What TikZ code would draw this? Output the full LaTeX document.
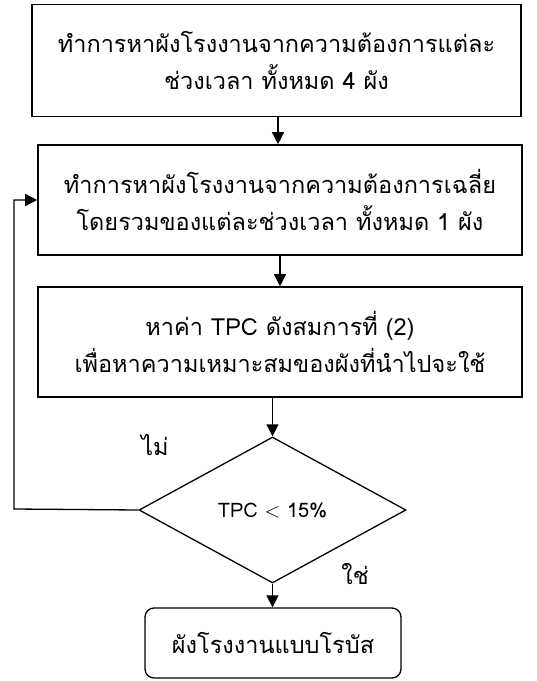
\documentclass[tikz,border=0pt]{standalone}
\usepackage{fontspec}
\newfontfamily\thaifont[Script=Thai]{Loma}
\usetikzlibrary{shapes.geometric,arrows.meta}
\begin{document}
\begin{tikzpicture}[x=1pt,y=-1pt,
  box/.style={draw,line width=1.6pt,inner sep=0pt,align=center,
    font=\thaifont\fontsize{23.5}{37}\selectfont},
  conn/.style={line width=1.3pt,-{Triangle[width=12pt,length=12pt]}},
  lbl/.style={font=\thaifont\fontsize{23.5}{26}\selectfont}]
\useasboundingbox (0,0) rectangle (537,681);
\node[box,minimum width=489pt,minimum height=112pt] (b1) at (276.5,60.5)
  {ทำการหาผังโรงงานจากความต้องการแต่ละ\\ช่วงเวลา ทั้งหมด 4 ผัง};
\node[box,minimum width=484pt,minimum height=110pt] (b2) at (280,200)
  {ทำการหาผังโรงงานจากความต้องการเฉลี่ย\\โดยรวมของแต่ละช่วงเวลา ทั้งหมด 1 ผัง};
\node[box,minimum width=484pt,minimum height=110pt] (b3) at (280,342)
  {หาค่า TPC ดังสมการที่ (2)\\เพื่อหาความเหมาะสมของผังที่นำไปจะใช้};
\node[diamond,draw,line width=1.3pt,inner sep=0pt,minimum width=267pt,minimum height=146pt,
  font=\thaifont\fontsize{20}{22}\selectfont] (d) at (272.5,510) {TPC $<$ 15\%};
\node[draw,line width=1.3pt,rounded corners=9pt,minimum width=256pt,minimum height=70pt,
  inner sep=0pt,font=\thaifont\fontsize{23.5}{26}\selectfont] (e) at (273,643) {ผังโรงงานแบบโรบัส};
\coordinate (lp) at (14,509);
\draw[conn] (b1.south -| 278,0) -- (b2.north -| 278,0);
\draw[conn] (b2) -- (b3);
\draw[conn] (b3.south -| 272.5,0) -- (d.north);
\draw[conn] (d.south) -- (e.north -| d.south);
\draw[conn] (d.west) -- (lp) |- (b2.west);
\node[lbl] (no) at (155,445) {ไม่};
\node[lbl] (yes) at (355,574) {ใช่};
\end{tikzpicture}
\end{document}
